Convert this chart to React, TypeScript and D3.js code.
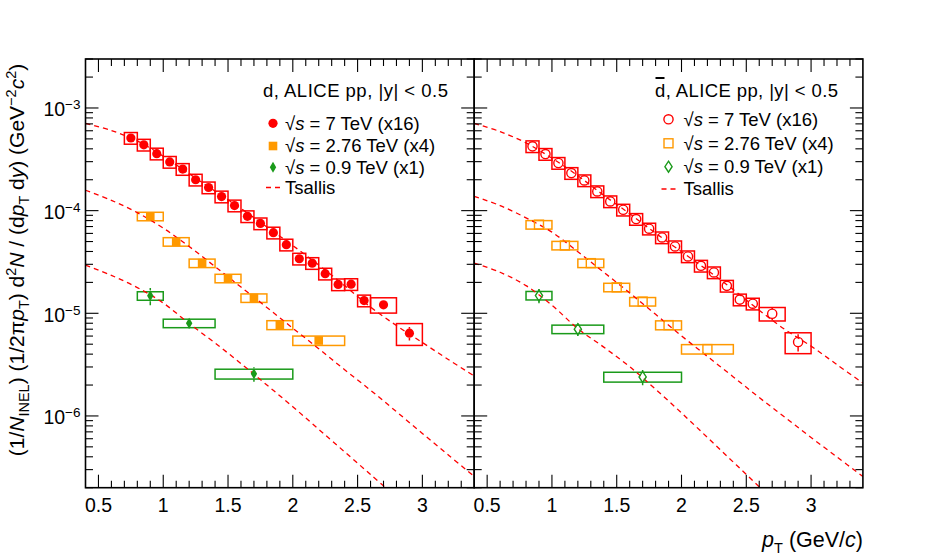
import React from "react";
import * as d3 from "d3";

// ---------------- data ----------------
const X_DOMAIN = [0.4, 3.4];
const Y_DOMAIN = [2e-7, 3e-3];
const X_TICK_LABELS = ["0.5", "1", "1.5", "2", "2.5", "3"];
const Y_TICK_EXPONENTS = [-3, -4, -5, -6];

// deuterons, pp 7 TeV (x16)
const dPt7 = [0.75, 0.85, 0.95, 1.05, 1.15, 1.25, 1.35, 1.45, 1.55, 1.65, 1.75, 1.85, 1.95, 2.05, 2.15, 2.25, 2.35, 2.45, 2.55, 2.7, 2.9];
const dLo7 = [0.7, 0.8, 0.9, 1.0, 1.1, 1.2, 1.3, 1.4, 1.5, 1.6, 1.7, 1.8, 1.9, 2.0, 2.1, 2.2, 2.3, 2.4, 2.5, 2.6, 2.8];
const dHi7 = [0.8, 0.9, 1.0, 1.1, 1.2, 1.3, 1.4, 1.5, 1.6, 1.7, 1.8, 1.9, 2.0, 2.1, 2.2, 2.3, 2.4, 2.5, 2.6, 2.8, 3.0];
const dY7 = [5.1e-4, 4.38e-4, 3.59e-4, 2.98e-4, 2.54e-4, 2.0e-4, 1.68e-4, 1.37e-4, 1.12e-4, 8.8e-5, 7.5e-5, 6.1e-5, 4.66e-5, 3.4e-5, 3.08e-5, 2.43e-5, 1.91e-5, 1.92e-5, 1.33e-5, 1.21e-5, 6.4e-6];
const dStat7 = [0.02, 0.02, 0.02, 0.02, 0.02, 0.02, 0.02, 0.02, 0.02, 0.02, 0.02, 0.02, 0.02, 0.02, 0.02, 0.02, 0.03, 0.04, 0.05, 0.08, 0.15];
const dSys7 = [0.13, 0.13, 0.13, 0.13, 0.13, 0.13, 0.13, 0.13, 0.13, 0.13, 0.13, 0.13, 0.13, 0.13, 0.13, 0.13, 0.13, 0.13, 0.13, 0.17, 0.24];

// deuterons, pp 2.76 TeV (x4)
const dPt276 = [0.9, 1.1, 1.3, 1.5, 1.7, 1.9, 2.2];
const dLo276 = [0.8, 1.0, 1.2, 1.4, 1.6, 1.8, 2.0];
const dHi276 = [1.0, 1.2, 1.4, 1.6, 1.8, 2.0, 2.4];
const dY276 = [8.8e-5, 4.98e-5, 3.08e-5, 2.19e-5, 1.41e-5, 7.7e-6, 5.43e-6];
const dStat276 = [0.03, 0.04, 0.04, 0.05, 0.06, 0.07, 0.08];
const dSys276 = [0.095, 0.095, 0.095, 0.095, 0.095, 0.1, 0.105];

// deuterons, pp 0.9 TeV (x1)
const dPt09 = [0.9, 1.2, 1.7];
const dLo09 = [0.8, 1.0, 1.4];
const dHi09 = [1.0, 1.4, 2.0];
const dY09 = [1.48e-5, 8.0e-6, 2.57e-6];
const dStat09 = [0.19, 0.12, 0.16];
const dSys09 = [0.095, 0.095, 0.11];

// anti-deuterons, pp 7 TeV (x16)
const aPt7 = [0.85, 0.95, 1.05, 1.15, 1.25, 1.35, 1.45, 1.55, 1.65, 1.75, 1.85, 1.95, 2.05, 2.15, 2.25, 2.35, 2.45, 2.55, 2.7, 2.9];
const aLo7 = [0.8, 0.9, 1.0, 1.1, 1.2, 1.3, 1.4, 1.5, 1.6, 1.7, 1.8, 1.9, 2.0, 2.1, 2.2, 2.3, 2.4, 2.5, 2.6, 2.8];
const aHi7 = [0.9, 1.0, 1.1, 1.2, 1.3, 1.4, 1.5, 1.6, 1.7, 1.8, 1.9, 2.0, 2.1, 2.2, 2.3, 2.4, 2.5, 2.6, 2.8, 3.0];
const aY7 = [4.23e-4, 3.56e-4, 2.91e-4, 2.32e-4, 1.97e-4, 1.54e-4, 1.23e-4, 1.02e-4, 8.28e-5, 6.67e-5, 5.48e-5, 4.48e-5, 3.58e-5, 2.9e-5, 2.5e-5, 1.85e-5, 1.36e-5, 1.24e-5, 9.9e-6, 5.25e-6];
const aStat7 = [0.02, 0.02, 0.02, 0.02, 0.02, 0.02, 0.02, 0.02, 0.02, 0.02, 0.02, 0.02, 0.02, 0.02, 0.02, 0.03, 0.04, 0.05, 0.14, 0.19];
const aSys7 = [0.13, 0.13, 0.13, 0.13, 0.13, 0.13, 0.13, 0.13, 0.13, 0.13, 0.13, 0.13, 0.13, 0.13, 0.13, 0.13, 0.13, 0.13, 0.15, 0.23];

// anti-deuterons, pp 2.76 TeV (x4)
const aPt276 = [0.9, 1.1, 1.3, 1.5, 1.7, 1.9, 2.2];
const aLo276 = [0.8, 1.0, 1.2, 1.4, 1.6, 1.8, 2.0];
const aHi276 = [1.0, 1.2, 1.4, 1.6, 1.8, 2.0, 2.4];
const aY276 = [7.3e-5, 4.58e-5, 3.08e-5, 1.79e-5, 1.3e-5, 7.67e-6, 4.48e-6];
const aStat276 = [0.03, 0.04, 0.04, 0.05, 0.06, 0.07, 0.08];
const aSys276 = [0.095, 0.095, 0.095, 0.095, 0.095, 0.1, 0.105];

// anti-deuterons, pp 0.9 TeV (x1)
const aPt09 = [0.9, 1.2, 1.7];
const aLo09 = [0.8, 1.0, 1.4];
const aHi09 = [1.0, 1.4, 2.0];
const aY09 = [1.49e-5, 7.0e-6, 2.4e-6];
const aStat09 = [0.16, 0.14, 0.17];
const aSys09 = [0.095, 0.095, 0.11];

// Tsallis curves
const curvePt = [0.4, 0.6, 0.8, 1.0, 1.2, 1.4, 1.6, 1.8, 2.0, 2.2, 2.4, 2.6, 2.8, 3.0, 3.2, 3.4];
const curvePt09 = [0.4, 0.6, 0.8, 1.0, 1.2, 1.4, 1.6, 1.8, 2.0, 2.2, 2.4, 2.6, 2.8];
const dCurve7 = [7.08e-4, 6.03e-4, 4.79e-4, 3.39e-4, 2.29e-4, 1.55e-4, 1.05e-4, 6.92e-5, 4.57e-5, 2.95e-5, 1.86e-5, 1.15e-5, 7.59e-6, 5.19e-6, 3.55e-6, 2.45e-6];
const dCurve276 = [1.58e-4, 1.26e-4, 9.55e-5, 6.76e-5, 4.47e-5, 2.85e-5, 1.8e-5, 1.14e-5, 7.16e-6, 4.52e-6, 2.82e-6, 1.78e-6, 1.1e-6, 6.76e-7, 4.17e-7, 2.57e-7];
const dCurve09 = [2.95e-5, 2.34e-5, 1.78e-5, 1.26e-5, 7.94e-6, 5.13e-6, 3.24e-6, 2.0e-6, 1.23e-6, 7.41e-7, 4.47e-7, 2.69e-7, 1.62e-7];
const aCurve7 = [7.08e-4, 5.89e-4, 4.57e-4, 3.24e-4, 2.19e-4, 1.41e-4, 9.33e-5, 6.03e-5, 3.98e-5, 2.63e-5, 1.7e-5, 1.07e-5, 6.92e-6, 4.79e-6, 3.16e-6, 2.09e-6];
const aCurve276 = [1.38e-4, 1.12e-4, 8.51e-5, 6.17e-5, 3.98e-5, 2.51e-5, 1.58e-5, 9.77e-6, 6.03e-6, 3.8e-6, 2.4e-6, 1.51e-6, 9.66e-7, 6.17e-7, 3.98e-7, 2.57e-7];
const aCurve09 = [3.09e-5, 2.51e-5, 1.86e-5, 1.2e-5, 7.08e-6, 4.68e-6, 3.02e-6, 1.82e-6, 1.07e-6, 6.17e-7, 3.55e-7, 2.04e-7, 1.17e-7];

const legendLabels = ["= 7 TeV (x16)", "= 2.76 TeV (x4)", "= 0.9 TeV (x1)"];

// ---------------- style / layout ----------------
const FONT = "'Liberation Sans', Arial, Helvetica, sans-serif";
const RED = "#ff0000";
const ORANGE = "#ff9900";
const GREEN = "#1a9a1a";
const TOP = 59;
const BOTTOM = 487.7;
const LEFT_X0 = 85.5;
const MID_X = 474.2;
const RIGHT_X1 = 862.9;

type MarkerType = "circle" | "square" | "diamond";
interface Series {
  pt: number[]; lo: number[]; hi: number[]; y: number[]; stat: number[]; sys: number[];
  color: string; marker: MarkerType; open: boolean;
}

const yScale = d3.scaleLog().domain(Y_DOMAIN).range([BOTTOM, TOP]);

function markerHalf(m: MarkerType) {
  return m === "circle" ? 4.5 : m === "square" ? 4.4 : 5.5;
}

function Marker({ m, open, cx, cy, color }: { m: MarkerType; open: boolean; cx: number; cy: number; color: string }) {
  const fill = open ? "none" : color;
  const sw = open ? 1.4 : 0;
  if (m === "circle") return <circle cx={cx} cy={cy} r={4.6} fill={fill} stroke={color} strokeWidth={sw} />;
  if (m === "square") {
    const s = open ? 4.5 : 4.3;
    return <rect x={cx - s} y={cy - s} width={2 * s} height={2 * s} fill={fill} stroke={color} strokeWidth={sw} />;
  }
  const w = open ? 3.6 : 3.2;
  const h = 5.5;
  return <path d={`M${cx},${cy - h}L${cx + w},${cy}L${cx},${cy + h}L${cx - w},${cy}Z`} fill={fill} stroke={color} strokeWidth={sw} />;
}

function Panel({ x0, x1, id, series, curves }: {
  x0: number; x1: number; id: string; series: Series[];
  curves: { pt: number[]; y: number[] }[];
}) {
  const x = d3.scaleLinear().domain(X_DOMAIN).range([x0, x1]);
  const line = d3
    .line<[number, number]>()
    .x((d) => x(d[0]))
    .y((d) => yScale(d[1]))
    .curve(d3.curveCatmullRom.alpha(0.5));

  const xt: { v: number; major: boolean }[] = [];
  for (let i = 5; i < 34; i++) {
    const v = i / 10;
    xt.push({ v, major: i % 5 === 0 });
  }
  const yt: { v: number; major: boolean }[] = [];
  for (let e = -7; e <= -3; e++) {
    for (let k = 1; k <= 9; k++) {
      const v = k * Math.pow(10, e);
      if (v >= Y_DOMAIN[0] * 0.999 && v <= Y_DOMAIN[1] * 1.001) yt.push({ v, major: k === 1 });
    }
  }

  return (
    <g>
      <defs>
        <clipPath id={`clip-${id}`}>
          <rect x={x0} y={TOP} width={x1 - x0} height={BOTTOM - TOP} />
        </clipPath>
      </defs>
      <g clipPath={`url(#clip-${id})`}>
        {series.map((s, si) => (
          <g key={si}>
            {s.pt.map((p, i) => {
              const yt0 = yScale(s.y[i] * (1 + s.sys[i]));
              const yb0 = yScale(s.y[i] * (1 - s.sys[i]));
              return (
                <rect key={"b" + i} x={x(s.lo[i])} y={yt0} width={x(s.hi[i]) - x(s.lo[i])} height={yb0 - yt0}
                  fill="none" stroke={s.color} strokeWidth={1.5} />
              );
            })}
          </g>
        ))}
        {curves.map((c, ci) => (
          <path key={ci} d={line(c.pt.map((p, i) => [p, c.y[i]] as [number, number])) || ""}
            fill="none" stroke={RED} strokeWidth={1.3} strokeDasharray="5 4" />
        ))}
        {series.map((s, si) => (
          <g key={si}>
            {s.pt.map((p, i) => {
              const cx = x(p);
              const cy = yScale(s.y[i]);
              const h = markerHalf(s.marker);
              const ya = yScale(s.y[i] * (1 + s.stat[i]));
              const yb = yScale(s.y[i] * (1 - s.stat[i]));
              return (
                <g key={"m" + i}>
                  {ya < cy - h && <line x1={cx} x2={cx} y1={ya} y2={cy - h} stroke={s.color} strokeWidth={1.5} />}
                  {yb > cy + h && <line x1={cx} x2={cx} y1={cy + h} y2={yb} stroke={s.color} strokeWidth={1.5} />}
                  <Marker m={s.marker} open={s.open} cx={cx} cy={cy} color={s.color} />
                </g>
              );
            })}
          </g>
        ))}
      </g>
      <g stroke="#000" strokeWidth={1.1}>
        {xt.map((t, i) => {
          const px = x(t.v);
          const len = t.major ? 13 : 7;
          return (
            <g key={"x" + i}>
              <line x1={px} x2={px} y1={BOTTOM} y2={BOTTOM - len} />
              <line x1={px} x2={px} y1={TOP} y2={TOP + len} />
            </g>
          );
        })}
        {yt.map((t, i) => {
          const py = yScale(t.v);
          const len = t.major ? 13 : 7.5;
          return (
            <g key={"y" + i}>
              <line x1={x0} x2={x0 + len} y1={py} y2={py} />
              <line x1={x1} x2={x1 - len} y1={py} y2={py} />
            </g>
          );
        })}
      </g>
      <rect x={x0} y={TOP} width={x1 - x0} height={BOTTOM - TOP} fill="none" stroke="#000" strokeWidth={1.6} />
      {X_TICK_LABELS.map((l) => (
        <text key={l} x={x(+l)} y={512} textAnchor="middle" fontSize={19.5} fontFamily={FONT} fill="#000">
          {l}
        </text>
      ))}
    </g>
  );
}

function LegendBlock({ titleX, titleY, bar, mx, tx, rows, open, titleLen }: {
  titleX: number; titleY: number; bar: boolean; mx: number; tx: number; rows: number[]; open: boolean; titleLen: number;
}) {
  const markers: MarkerType[] = ["circle", "square", "diamond"];
  const colors = [RED, ORANGE, GREEN];
  return (
    <g fontFamily={FONT} fill="#000">
      <text x={titleX} y={titleY} fontSize={18.5} textLength={titleLen} lengthAdjust="spacing">
        d, ALICE pp, |y| &lt; 0.5
      </text>
      {bar && <line x1={titleX + 0.5} x2={titleX + 9.5} y1={78} y2={78} stroke="#000" strokeWidth={2} />}
      {legendLabels.map((l, i) => (
        <g key={i}>
          <Marker m={markers[i]} open={open} cx={mx} cy={rows[i]} color={colors[i]} />
          <text x={tx} y={rows[i] + 6.2} fontSize={18.5}>
            √<tspan fontStyle="italic">s</tspan> {l}
          </text>
        </g>
      ))}
      <line x1={mx - 7} x2={mx + 8} y1={rows[3]} y2={rows[3]} stroke={RED} strokeWidth={1.3} strokeDasharray="5 4" />
      <text x={tx} y={rows[3] + 6.2} fontSize={18.5}>Tsallis</text>
    </g>
  );
}

export default function App() {
  const dSeries: Series[] = [
    { pt: dPt7, lo: dLo7, hi: dHi7, y: dY7, stat: dStat7, sys: dSys7, color: RED, marker: "circle", open: false },
    { pt: dPt276, lo: dLo276, hi: dHi276, y: dY276, stat: dStat276, sys: dSys276, color: ORANGE, marker: "square", open: false },
    { pt: dPt09, lo: dLo09, hi: dHi09, y: dY09, stat: dStat09, sys: dSys09, color: GREEN, marker: "diamond", open: false },
  ];
  const aSeries: Series[] = [
    { pt: aPt7, lo: aLo7, hi: aHi7, y: aY7, stat: aStat7, sys: aSys7, color: RED, marker: "circle", open: true },
    { pt: aPt276, lo: aLo276, hi: aHi276, y: aY276, stat: aStat276, sys: aSys276, color: ORANGE, marker: "square", open: true },
    { pt: aPt09, lo: aLo09, hi: aHi09, y: aY09, stat: aStat09, sys: aSys09, color: GREEN, marker: "diamond", open: true },
  ];
  const dCurves = [
    { pt: curvePt, y: dCurve7 },
    { pt: curvePt, y: dCurve276 },
    { pt: curvePt09, y: dCurve09 },
  ];
  const aCurves = [
    { pt: curvePt, y: aCurve7 },
    { pt: curvePt, y: aCurve276 },
    { pt: curvePt09, y: aCurve09 },
  ];

  const sub = 14.5;
  return (
    <svg width={950} height={560} style={{ position: "absolute", left: 0, top: 0, background: "#fff" }}>
      <rect x={0} y={0} width={950} height={560} fill="#fff" />
      <Panel x0={LEFT_X0} x1={MID_X} id="d" series={dSeries} curves={dCurves} />
      <Panel x0={MID_X} x1={RIGHT_X1} id="a" series={aSeries} curves={aCurves} />

      {Y_TICK_EXPONENTS.map((e) => {
        const py = yScale(Math.pow(10, e));
        return (
          <text key={e} x={80.5} y={py + 8.4} textAnchor="end" fontSize={19.5} fontFamily={FONT} fill="#000">
            10<tspan dy={-7} fontSize={13.5}>{"\u2212" + String(-e)}</tspan>
          </text>
        );
      })}

      <text transform="translate(24,260) rotate(-90)" textAnchor="middle" fontSize={21} fontFamily={FONT} fill="#000">
        (1/<tspan fontStyle="italic">N</tspan>
        <tspan dy={5} fontSize={sub}>INEL</tspan>
        <tspan dy={-5}>) (1/2π</tspan>
        <tspan fontStyle="italic">p</tspan>
        <tspan dy={5} fontSize={sub}>T</tspan>
        <tspan dy={-5}>) d</tspan>
        <tspan dy={-8} fontSize={sub}>2</tspan>
        <tspan dy={8} fontStyle="italic">N</tspan>
        <tspan> / (d</tspan>
        <tspan fontStyle="italic">p</tspan>
        <tspan dy={5} fontSize={sub}>T</tspan>
        <tspan dy={-5}> d</tspan>
        <tspan fontStyle="italic">y</tspan>
        <tspan>) (GeV</tspan>
        <tspan dy={-8} fontSize={sub}>{"\u22122"}</tspan>
        <tspan dy={8} fontStyle="italic">c</tspan>
        <tspan dy={-8} fontSize={sub}>2</tspan>
        <tspan dy={8}>)</tspan>
      </text>

      <text x={863} y={547} textAnchor="end" fontSize={21.5} fontFamily={FONT} fill="#000">
        <tspan fontStyle="italic">p</tspan>
        <tspan dy={6} fontSize={sub}>T</tspan>
        <tspan dy={-6}> (GeV/</tspan>
        <tspan fontStyle="italic">c</tspan>
        <tspan>)</tspan>
      </text>

      <LegendBlock titleX={263} titleY={97} bar={false} mx={273} tx={285} rows={[123.3, 146, 167.3, 187.5]} open={false} titleLen={185} />
      <LegendBlock titleX={655} titleY={96.7} bar={true} mx={668.5} tx={683.5} rows={[119.3, 143.3, 166.7, 189]} open={true} titleLen={183} />
    </svg>
  );
}
